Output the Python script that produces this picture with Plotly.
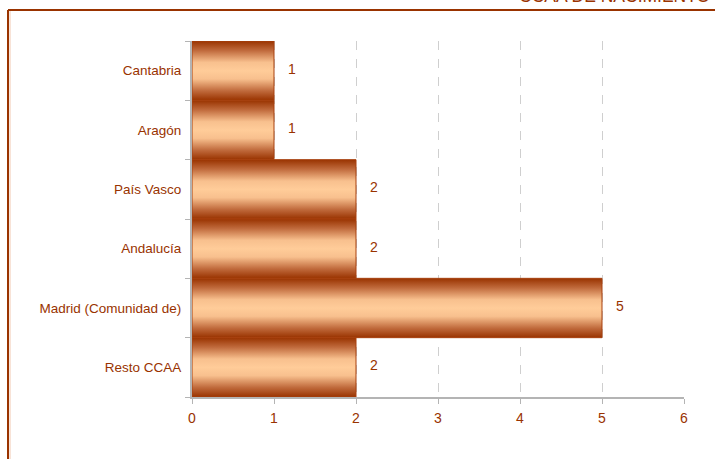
import plotly.graph_objects as go

# Data (top to bottom as shown)
categories = ["Cantabria", "Aragón", "País Vasco", "Andalucía", "Madrid (Comunidad de)", "Resto CCAA"]
values = [1, 1, 2, 2, 5, 2]
x_ticks = [0, 1, 2, 3, 4, 5, 6]
title_text = "CCAA DE NACIMIENTO"

BROWN = "#993300"
GREY = "#B4B4B4"
FONT = "Arial, Liberation Sans, sans-serif"

n = len(categories)
positions = [n - 1 - i for i in range(n)]

fig = go.Figure()
grad = [[0.0, "#993300"], [0.16, "#C06A3C"], [0.36, "#F8C08E"], [0.5, "#FFCC99"],
        [0.64, "#F8C08E"], [0.84, "#C06A3C"], [1.0, "#993300"]]

for cat, val, p in zip(categories, values, positions):
    fig.add_trace(go.Scatter(
        x=[0, val, val, 0, 0],
        y=[p - 0.5, p - 0.5, p + 0.5, p + 0.5, p - 0.5],
        mode="lines",
        fill="toself",
        fillgradient=dict(type="vertical", colorscale=grad),
        line=dict(color="#A8410F", width=1),
        hoverinfo="skip",
        showlegend=False,
        name=cat,
    ))
    fig.add_annotation(
        x=val, y=p, text=str(val), showarrow=False,
        xanchor="left", yanchor="middle", xshift=12, yshift=2,
        font=dict(family=FONT, size=14, color=BROWN),
    )

# Title (cut off at top right, as in the reference)
fig.add_annotation(
    x=(517 - 192) / 492, y=(397 - 8) / 356, xref="paper", yref="paper",
    text=title_text, showarrow=False, xanchor="left", yanchor="bottom",
    font=dict(family=FONT, size=17.5, color=BROWN),
)

# Frame lines
fig.add_shape(type="line", xref="paper", yref="paper",
              x0=(8 - 192) / 492, x1=(720 - 192) / 492,
              y0=(397 - 10) / 356, y1=(397 - 10) / 356,
              line=dict(color=BROWN, width=2))
fig.add_shape(type="line", xref="paper", yref="paper",
              x0=(8 - 192) / 492, x1=(8 - 192) / 492,
              y0=(397 - 10) / 356, y1=(397 - 470) / 356,
              line=dict(color=BROWN, width=2))
fig.add_shape(type="line", xref="paper", yref="paper",
              x0=(10 - 192) / 492, x1=(10 - 192) / 492,
              y0=(397 - 11) / 356, y1=(397 - 470) / 356,
              line=dict(color="#F2C8B0", width=1))

fig.update_xaxes(
    range=[0, 6], tickvals=x_ticks, ticktext=[str(t) for t in x_ticks],
    showgrid=True, griddash="dash", gridcolor="#CFCFCF", gridwidth=1,
    showline=True, linecolor=GREY, linewidth=2,
    ticks="outside", ticklen=5, tickcolor=GREY, tickwidth=1,
    zeroline=False, ticklabelstandoff=2,
    tickfont=dict(family=FONT, size=14, color=BROWN),
)
fig.update_yaxes(
    range=[-0.5, n - 0.5], tickvals=positions, ticktext=categories,
    showgrid=False, zeroline=False,
    showline=True, linecolor=GREY, linewidth=2,
    ticks="", ticklabelstandoff=6,
    minor=dict(tickvals=[p - 0.5 for p in range(n + 1)], ticks="outside",
               ticklen=5, tickcolor=GREY, tickwidth=1, showgrid=False),
    tickfont=dict(family=FONT, size=13.5, color=BROWN),
)

fig.update_layout(
    width=715, height=459,
    margin=dict(l=192, r=31, t=41, b=62),
    paper_bgcolor="white", plot_bgcolor="white",
    showlegend=False,
)

fig.write_html(
    "out.html",
    config={"displayModeBar": False},
    post_script="document.body.style.margin='0';document.body.style.overflow='hidden';",
)
